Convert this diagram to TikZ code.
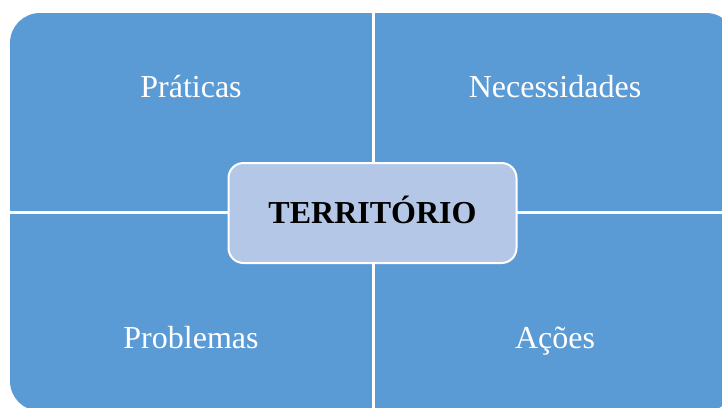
\documentclass[tikz,border=0pt]{standalone}
\usepackage{fontspec}
\setmainfont{Liberation Serif}
\usetikzlibrary{positioning}
\definecolor{quadblue}{HTML}{5B9BD5}
\definecolor{hubblue}{HTML}{B4C7E7}

\begin{document}
\begin{tikzpicture}[x=1pt, y=-1pt,
  quadtext/.style={draw=none, text=white, font=\fontsize{32}{38}\selectfont, anchor=base},
  hub/.style={draw=white, line width=2pt, fill=hubblue, rounded corners=15pt,
    minimum width=288pt, minimum height=100pt, text height=22pt, text depth=2pt,
    font=\fontsize{32}{38}\selectfont\bfseries},
  gap/.style={white, line width=3pt}]

\useasboundingbox (0,0) rectangle (722,407);
\clip (0,0) rectangle (722,407);

% Matrix background (runs off the right and bottom edge)
\fill[quadblue, rounded corners=30pt] (10,13) rectangle (736,411);

% Separators between the four quadrants
\coordinate (north) at (373,13);
\coordinate (south) at (373,411);
\coordinate (west) at (10,212);
\coordinate (east) at (736,212);
\draw[gap] (north) -- (south);
\draw[gap] (west) -- (east);

% Quadrant labels
\foreach \name/\x/\y/\txt in {prat/191/97/Práticas, nec/555/97/Necessidades,
                              prob/191/348/Problemas, acoes/555/348/Ações} {
  \node[quadtext] (\name) at (\x,\y) {\txt};
}

% Centre
\node[hub] (terr) at (372.5,213) {TERRITÓRIO};

\end{tikzpicture}
\end{document}
